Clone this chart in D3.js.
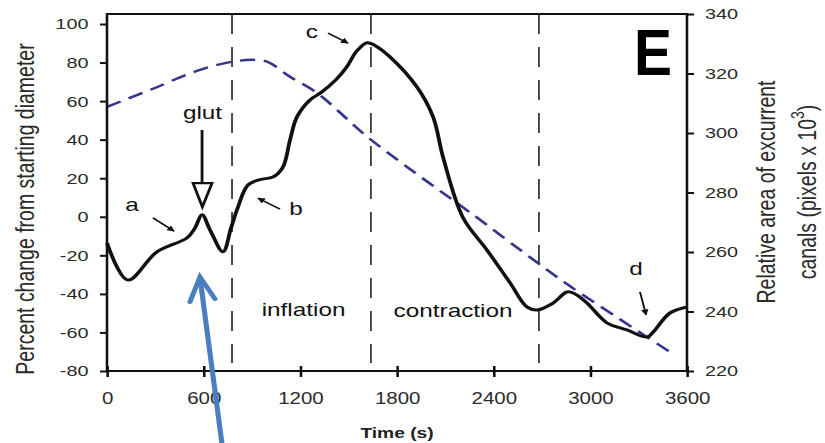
<!DOCTYPE html>
<html>
<head>
<meta charset="utf-8">
<script src="https://cdn.jsdelivr.net/npm/d3@7"></script>
<style>
  body { margin: 0; background: #fff; }
  svg { display: block; font-family: "Liberation Sans", Arial, sans-serif; }
</style>
</head>
<body>
<div id="d3-container"></div>
<script>
/**
 * CONSTANTS AND GLOBALS
 * */
const width = 825,
  height = 443,
  stretch = 1.28; // the scanned figure is squeezed wider than it is tall

// black trace: percent change from starting diameter (left axis)
const diamTime = [0, 130, 310, 496, 545, 590, 640, 720, 770, 813, 875, 950, 1030, 1092, 1136, 1179, 1260, 1330, 1420, 1490, 1550, 1614, 1660, 1757, 1924, 2024, 2087, 2210, 2358, 2502, 2607, 2670, 2770, 2855, 2900, 2979, 3103, 3227, 3352, 3390, 3494, 3600];
const diamPct = [-13.6, -32.8, -18.2, -11, -6, 1, -6.9, -18.2, -5.8, 5, 16.5, 19.3, 20.6, 25.8, 39.8, 51.8, 60.6, 64.5, 71, 78, 86, 90.3, 89, 82.9, 67.3, 51.8, 30.6, -0.5, -17.2, -34.3, -46.8, -48.3, -44.7, -39, -39.8, -44.7, -55, -58.7, -62.4, -59.8, -49.9, -46.8];

// blue dashed trace: relative area of excurrent canals (right axis)
const areaTime = [0, 267, 577, 782, 907, 993, 1136, 1303, 1614, 1943, 2253, 2669, 2874, 3184, 3352, 3494];
const areaPx = [308.8, 314.5, 321.2, 324, 324.6, 324, 318.9, 313.5, 298.8, 285.4, 273.3, 256.5, 248.5, 237.4, 231.4, 226.4];

// vertical dashed phase boundaries (s)
const phaseBounds = [776, 1638, 2681];

// tick labels
const xTicks = [0, 600, 1200, 1800, 2400, 3000, 3600];
const leftTicks = [-80, -60, -40, -20, 0, 20, 40, 60, 80, 100];
const rightTicks = [220, 240, 260, 280, 300, 320, 340];

// text labels, placed at (time, percent) of their baseline centre
const labelText = ["a", "b", "c", "d", "glut", "inflation", "contraction"];
const labelTime = [155, 1173, 1272, 3283, 593, 1220, 2148];
const labelPct = [3.0, 0.9, 92.7, -30.2, 50.7, -51.5, -52];

// small pointer arrows: [t1, v1, t2, v2] in (time, percent)
const pointers = [
  [285, -0.6, 416, -7.4],
  [1074, 4.0, 937, 9.7],
  [1372, 95.3, 1496, 90.1],
  [3308, -39.0, 3346, -50.9],
];

/**
 * SCALES
 * */
const x = d3.scaleLinear().domain([0, 3600]).range([107 / stretch, 687 / stretch]);
const yL = d3.scaleLinear().domain([-80, 100]).range([371, 24]);
const yR = d3.scaleLinear().domain([220, 340]).range([371, 14]);
const plotTop = 14, plotBottom = 371;
const plain = d => String(d); // hyphen minus, no thousands comma

const svg = d3
  .select("#d3-container")
  .append("svg")
  .attr("width", width)
  .attr("height", height);

const g = svg.append("g").attr("transform", `scale(${stretch},1)`);

const defs = svg.append("defs");
defs.append("marker")
  .attr("id", "head")
  .attr("viewBox", "0 0 10 10")
  .attr("refX", 9).attr("refY", 5)
  .attr("markerWidth", 4).attr("markerHeight", 4)
  .attr("orient", "auto")
  .append("path")
  .attr("d", "M0,0L10,5L0,10z")
  .attr("fill", "#111");

// phase boundaries
g.selectAll(".phase")
  .data(phaseBounds)
  .join("line")
  .attr("class", "phase")
  .attr("x1", d => x(d)).attr("x2", d => x(d))
  .attr("y1", plotTop).attr("y2", 363)
  .attr("stroke", "#3a3a3a")
  .attr("stroke-width", 1.4)
  .attr("stroke-dasharray", "20,13");

// blue dashed area trace
const areaLine = d3.line()
  .x(i => x(areaTime[i]))
  .y(i => yR(areaPx[i]))
  .curve(d3.curveCatmullRom.alpha(0.5));
g.append("path")
  .attr("d", areaLine(d3.range(areaTime.length)))
  .attr("fill", "none")
  .attr("stroke", "#35358e")
  .attr("stroke-width", 2.4)
  .attr("stroke-dasharray", "12,7");

// black diameter trace
const diamLine = d3.line()
  .x(i => x(diamTime[i]))
  .y(i => yL(diamPct[i]))
  .curve(d3.curveCatmullRom.alpha(0.5));
g.append("path")
  .attr("d", diamLine(d3.range(diamTime.length)))
  .attr("fill", "none")
  .attr("stroke", "#111")
  .attr("stroke-width", 3)
  .attr("stroke-linejoin", "round");

// frame
g.append("rect")
  .attr("x", x(0)).attr("y", plotTop)
  .attr("width", x(3600) - x(0)).attr("height", plotBottom - plotTop)
  .attr("fill", "none")
  .attr("stroke", "#111")
  .attr("stroke-width", 2);

// axes
const left = g.append("g")
  .attr("transform", `translate(${x(0)},0)`)
  .call(d3.axisLeft(yL).tickValues(leftTicks).tickFormat(plain).tickSize(5.5).tickSizeOuter(0).tickPadding(9));
const right = g.append("g")
  .attr("transform", `translate(${x(3600)},0)`)
  .call(d3.axisRight(yR).tickValues(rightTicks).tickFormat(plain).tickSize(5.5).tickSizeOuter(0).tickPadding(8.5));
const bot = g.append("g")
  .attr("transform", `translate(0,${plotBottom})`)
  .call(d3.axisBottom(x).tickValues(xTicks).tickFormat(plain).tickSize(5).tickSizeOuter(0));
bot.selectAll(".tick line").attr("y1", -5).attr("y2", 6);
bot.selectAll(".tick text").attr("y", 22).attr("font-size", 16);

[left, right, bot].forEach(a => {
  a.select(".domain").remove();
  a.selectAll(".tick line").attr("stroke", "#111").attr("stroke-width", 2);
  a.selectAll(".tick text").attr("fill", "#2a2a2a");
});
left.selectAll(".tick text").attr("font-size", 15.5);
right.selectAll(".tick text").attr("font-size", 15.5);

// axis titles
g.append("text")
  .attr("transform", `translate(${26 / stretch},209) rotate(-90)`)
  .attr("text-anchor", "middle")
  .attr("dominant-baseline", "central")
  .attr("font-size", 19.5)
  .attr("fill", "#2a2a2a")
  .text("Percent change from starting diameter");

g.append("text")
  .attr("transform", `translate(${767 / stretch},192) rotate(-90)`)
  .attr("text-anchor", "middle")
  .attr("dominant-baseline", "central")
  .attr("font-size", 19.5)
  .attr("fill", "#2a2a2a")
  .text("Relative area of excurrent");

const r2 = g.append("text")
  .attr("transform", `translate(${807 / stretch},192) rotate(-90)`)
  .attr("text-anchor", "middle")
  .attr("dominant-baseline", "central")
  .attr("font-size", 19.5)
  .attr("fill", "#2a2a2a");
r2.append("tspan").text("canals (pixels x 10");
r2.append("tspan").attr("baseline-shift", "super").attr("font-size", 14).text("3");
r2.append("tspan").text(")");

g.append("text")
  .attr("x", x(1800)).attr("y", 438)
  .attr("text-anchor", "middle")
  .attr("font-size", 15)
  .attr("font-weight", "bold")
  .attr("fill", "#222")
  .text("Time (s)");

// panel letter
g.append("text")
  .attr("x", 634 / stretch).attr("y", 75)
  .attr("font-size", 65)
  .attr("font-weight", "bold")
  .attr("textLength", 38 / stretch)
  .attr("lengthAdjust", "spacingAndGlyphs")
  .attr("fill", "#000")
  .text("E");

// annotations
g.selectAll(".label")
  .data(d3.range(labelText.length))
  .join("text")
  .attr("class", "label")
  .attr("x", i => x(labelTime[i]))
  .attr("y", i => yL(labelPct[i]))
  .attr("text-anchor", "middle")
  .attr("font-size", 19)
  .attr("fill", "#111")
  .text(i => labelText[i]);

g.selectAll(".pointer")
  .data(pointers)
  .join("line")
  .attr("class", "pointer")
  .attr("x1", d => x(d[0])).attr("y1", d => yL(d[1]))
  .attr("x2", d => x(d[2])).attr("y2", d => yL(d[3]))
  .attr("stroke", "#111")
  .attr("stroke-width", 1.5)
  .attr("marker-end", "url(#head)");

// glut arrow: shaft with open triangle head
g.append("line")
  .attr("x1", x(590)).attr("x2", x(590))
  .attr("y1", yL(45)).attr("y2", yL(17.5))
  .attr("stroke", "#111").attr("stroke-width", 2.2);
g.append("path")
  .attr("d", `M${x(534)},${yL(17.5)}L${x(652)},${yL(17.5)}L${x(592)},${yL(5.1)}Z`)
  .attr("fill", "#fff")
  .attr("stroke", "#111")
  .attr("stroke-width", 2.2)
  .attr("stroke-linejoin", "miter");

// blue pointer drawn over the scan, pointing at the glut response
g.append("line")
  .attr("x1", x(714)).attr("y1", yL(-118))
  .attr("x2", x(578)).attr("y2", yL(-32))
  .attr("stroke", "#4a7ec1").attr("stroke-width", 4);
g.append("path")
  .attr("d", `M${x(515)},${yL(-44.2)}L${x(577)},${yL(-31.2)}L${x(670)},${yL(-42.6)}`)
  .attr("fill", "none")
  .attr("stroke", "#4a7ec1")
  .attr("stroke-width", 4)
  .attr("stroke-linecap", "round");
</script>
</body>
</html>
